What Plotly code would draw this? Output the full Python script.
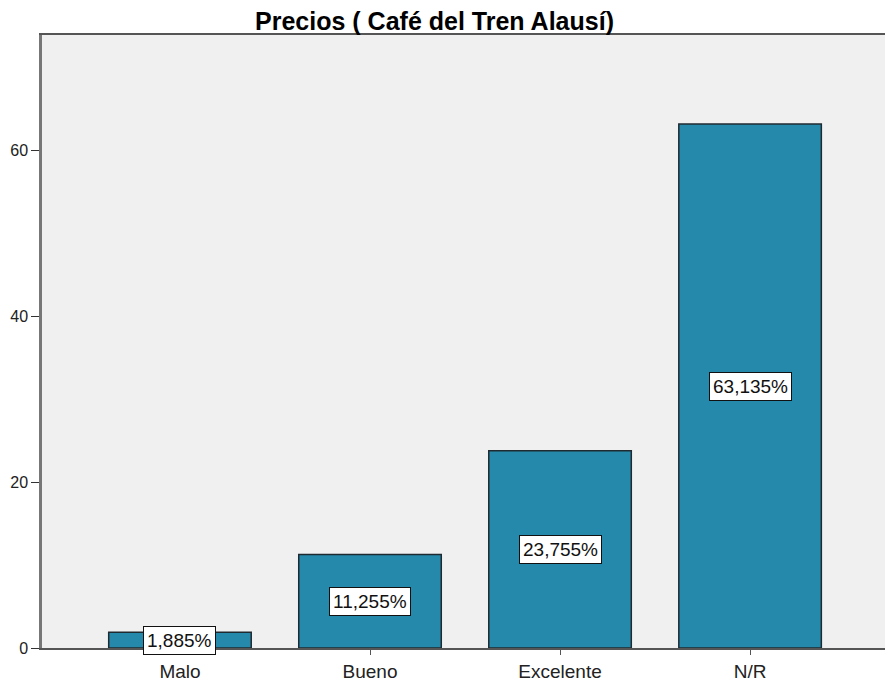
import plotly.graph_objects as go

categories = ["Malo", "Bueno", "Excelente", "N/R"]
values = [1.885, 11.255, 23.755, 63.135]
labels = ["1,885%", "11,255%", "23,755%", "63,135%"]
y_ticks = [0, 20, 40, 60]

FONT = "Liberation Sans, Arial"

fig = go.Figure()
fig.add_trace(go.Bar(
    x=categories, y=values,
    marker=dict(color="#2589AB", line=dict(color="#1f2a30", width=1.5)),
    width=0.75,
))

for c, v, t in zip(categories, values, labels):
    fig.add_annotation(
        x=c, y=v / 2, text=t, showarrow=False,
        font=dict(family=FONT, size=19, color="#111"),
        bgcolor="white", bordercolor="#111", borderwidth=1, borderpad=3,
    )

fig.update_layout(
    width=885, height=688,
    margin=dict(l=42, r=0, t=35, b=40, autoexpand=False),
    paper_bgcolor="white", plot_bgcolor="#F0F0F0",
    showlegend=False,
    title=dict(text="<b>Precios ( Café del Tren Alausí)</b>", x=0.491, xanchor="center",
               y=0.969, yanchor="middle",
               font=dict(family=FONT, size=25, color="black")),
    font=dict(family=FONT, color="black"),
)
fig.update_xaxes(
    range=[-0.726, 3.71], showgrid=False, showline=True, linecolor="#555555", linewidth=2,
    mirror=True, ticks="outside", ticklen=5, tickcolor="#555555", automargin=False,
    tickfont=dict(size=19, color="#222"),
)
fig.update_yaxes(
    range=[0, 73.86], tickvals=y_ticks, showgrid=False, zeroline=False,
    showline=True, linecolor="#777777", linewidth=2.5, mirror=False, automargin=False,
    ticks="outside", ticklen=8, tickcolor="#333", tickfont=dict(size=16, color="#222"),
)

fig.write_html("out.html", config={"displayModeBar": False},
               post_script="document.body.style.margin='0';document.body.style.overflow='hidden';")
